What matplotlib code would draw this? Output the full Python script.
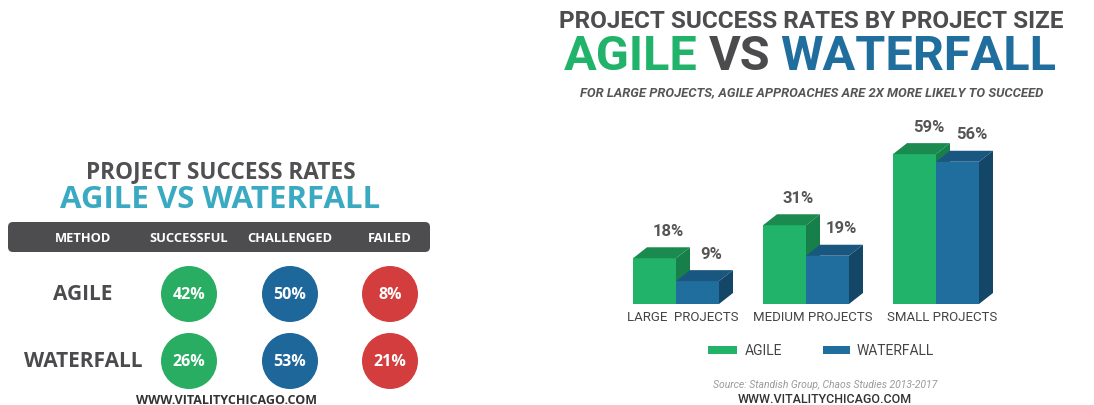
import matplotlib
matplotlib.use("Agg")
import matplotlib.pyplot as plt
import numpy as np
from matplotlib.patches import Circle, FancyBboxPatch, Polygon, Rectangle

W, H = 1094, 406

# left panel: outcome table
methods = ["AGILE", "WATERFALL"]
outcomes = ["SUCCESSFUL", "CHALLENGED", "FAILED"]
agile_outcomes = [42, 50, 8]
waterfall_outcomes = [26, 53, 21]

# right panel: success by project size
sizes = ["LARGE  PROJECTS", "MEDIUM PROJECTS", "SMALL PROJECTS"]
agile_success = [18, 31, 59]
waterfall_success = [9, 19, 56]

DARK = "#4b4b4e"
TEAL = "#3aa9c2"
GREEN, GREEN_TOP, GREEN_SIDE = "#22b36b", "#1a8a4f", "#17804a"
BLUE, BLUE_TOP, BLUE_SIDE = "#1f6e9e", "#195780", "#144767"
CIRCLE_COLORS = ["#28ad62", "#1d679a", "#d43d3e"]

LEFT_FONT = "Open Sans"
RIGHT_FONT = "Roboto"

fig = plt.figure(figsize=(W / 100, H / 100), dpi=100)
fig.patch.set_facecolor("white")

# pixel-space overlay for text and layout
bg = fig.add_axes([0, 0, 1, 1])
bg.set_xlim(0, W)
bg.set_ylim(H, 0)
bg.axis("off")

# ---------------- left panel ----------------
bg.text(221, 172, "PROJECT SUCCESS RATES", ha="center", va="center",
        fontsize=16.3, fontweight="bold", family=LEFT_FONT, color="#505052")
bg.text(220, 200, "AGILE VS WATERFALL", ha="center", va="center",
        fontsize=22.5, fontweight="bold", family=LEFT_FONT, color=TEAL)

bg.add_patch(FancyBboxPatch((8, 223), 422, 30, boxstyle="round,pad=0,rounding_size=5",
                            facecolor="#4d4d50", edgecolor="none"))
col_x = [83, 189, 290, 390]
for x, lab in zip(col_x, ["METHOD"] + outcomes):
    bg.text(x, 238.5, lab, ha="center", va="center", fontsize=9.3,
            fontweight="bold", family=LEFT_FONT, color="white")

row_y = [295, 362]
for y, method, vals in zip(row_y, methods, [agile_outcomes, waterfall_outcomes]):
    bg.text(col_x[0], y, method, ha="center", va="center", fontsize=15,
            fontweight="bold", family=LEFT_FONT, color=DARK)
    for x, v, c in zip(col_x[1:], vals, CIRCLE_COLORS):
        bg.add_patch(Circle((x, y), 28, facecolor=c, edgecolor="none"))
        bg.text(x, y, f"{v}%", ha="center", va="center", fontsize=11.5,
                fontweight="bold", family=LEFT_FONT, color="white")

bg.text(226, 401, "WWW.VITALITYCHICAGO.COM", ha="center", va="center",
        fontsize=9, fontweight="bold", family=LEFT_FONT, color="#333333")

# ---------------- right panel titles ----------------
bg.text(811, 22, "PROJECT SUCCESS RATES BY PROJECT SIZE", ha="center", va="center",
        fontsize=17.5, fontweight="bold", family=RIGHT_FONT, color="#4d4d50")
bg.text(698, 57, "AGILE", ha="right", va="center", fontsize=35,
        fontweight="bold", family=RIGHT_FONT, color=GREEN)
bg.text(709, 57, "VS", ha="left", va="center", fontsize=35,
        fontweight="bold", family=RIGHT_FONT, color=DARK)
bg.text(780, 57, "WATERFALL", ha="left", va="center", fontsize=35,
        fontweight="bold", family=RIGHT_FONT, color=BLUE)
bg.text(812, 93, "FOR LARGE PROJECTS, AGILE APPROACHES ARE 2X MORE LIKELY TO SUCCEED",
        ha="center", va="center", fontsize=9.4, fontweight="bold", style="italic",
        family=RIGHT_FONT, color="#555555")

# ---------------- right panel: pseudo-3D bars ----------------
PX_X, PX_Y = 130.0, 2.54          # pixels per category step / per percent
ax_left, ax_right, ax_base, ax_top = 600, 1010, 305, 118
ax = fig.add_axes([ax_left / W, (H - ax_base) / H,
                   (ax_right - ax_left) / W, (ax_base - ax_top) / H])
ax.set_xlim(-(676 - ax_left) / PX_X, (ax_right - 676) / PX_X)
ax.set_ylim(0, (ax_base - ax_top) / PX_Y)
ax.axis("off")

x = np.arange(len(sizes))
bw = 43 / PX_X
dx, dy = 14 / PX_X, 11 / PX_Y


def draw_3d(centers, values, front, top, side, z):
    ax.bar(centers, values, width=bw, color=front, zorder=z, linewidth=0)
    for c, v in zip(centers, values):
        l, r = c - bw / 2, c + bw / 2
        ax.add_patch(Polygon([(l, v), (r, v), (r + dx, v + dy), (l + dx, v + dy)],
                             closed=True, facecolor=top, edgecolor="none", zorder=z))
        ax.add_patch(Polygon([(r, 0), (r + dx, dy), (r + dx, v + dy), (r, v)],
                             closed=True, facecolor=side, edgecolor="none", zorder=z))
        ax.text(c + dx, v + dy + 17 / PX_Y, f"{v}%", ha="center", va="center",
                fontsize=12, fontweight="bold", family=RIGHT_FONT, color="#555555",
                clip_on=False)


draw_3d(x - bw / 2, agile_success, GREEN, GREEN_TOP, GREEN_SIDE, 2)
draw_3d(x + bw / 2, waterfall_success, BLUE, BLUE_TOP, BLUE_SIDE, 3)

for xi, lab in zip(x, sizes):
    ax.text(xi + 0.05, -13 / PX_Y, lab, ha="center", va="center", fontsize=9.5,
            family=RIGHT_FONT, color="#444444", clip_on=False)

# legend
bg.add_patch(Rectangle((708, 346.5), 29, 8.5, facecolor=GREEN, edgecolor="none"))
bg.text(745, 351, "AGILE", ha="left", va="center", fontsize=10,
        family=RIGHT_FONT, color="#444444")
bg.add_patch(Rectangle((823, 346.5), 27, 8.5, facecolor=BLUE, edgecolor="none"))
bg.text(857, 351, "WATERFALL", ha="left", va="center", fontsize=10,
        family=RIGHT_FONT, color="#444444")

bg.text(825, 385, "Source: Standish Group, Chaos Studies 2013-2017", ha="center",
        va="center", fontsize=7.5, style="italic", family=RIGHT_FONT, color="#9a9a9a")
bg.text(825, 400, "WWW.VITALITYCHICAGO.COM", ha="center", va="center",
        fontsize=9, fontweight="medium", family=RIGHT_FONT, color="#333333")

fig.savefig("out.png", dpi=100, facecolor="white")
